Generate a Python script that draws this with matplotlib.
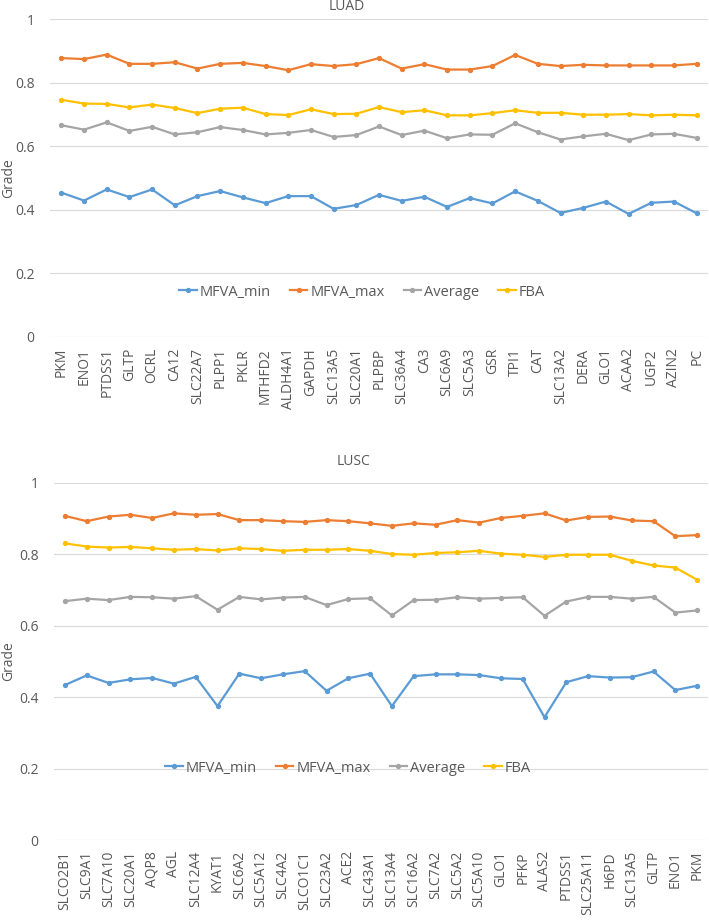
import matplotlib
matplotlib.use('Agg')
import matplotlib.pyplot as plt

plt.rcParams['font.family'] = ['Open Sans', 'DejaVu Sans']

# LUAD data
luad_genes = ['PKM', 'ENO1', 'PTDSS1', 'GLTP', 'OCRL', 'CA12', 'SLC22A7', 'PLPP1', 'PKLR',
              'MTHFD2', 'ALDH4A1', 'GAPDH', 'SLC13A5', 'SLC20A1', 'PLPBP', 'SLC36A4', 'CA3',
              'SLC6A9', 'SLC5A3', 'GSR', 'TPI1', 'CAT', 'SLC13A2', 'DERA', 'GLO1', 'ACAA2',
              'UGP2', 'AZIN2', 'PC']
luad_min = [0.454, 0.429, 0.464, 0.440, 0.464, 0.414, 0.443, 0.459, 0.439, 0.421, 0.443,
            0.443, 0.403, 0.415, 0.447, 0.428, 0.441, 0.409, 0.437, 0.420, 0.458, 0.428,
            0.390, 0.406, 0.426, 0.387, 0.422, 0.426, 0.389]
luad_max = [0.877, 0.874, 0.888, 0.859, 0.859, 0.864, 0.844, 0.859, 0.862, 0.852, 0.839,
            0.858, 0.852, 0.858, 0.877, 0.844, 0.858, 0.841, 0.841, 0.852, 0.887, 0.859,
            0.852, 0.856, 0.854, 0.854, 0.854, 0.854, 0.859]
luad_avg = [0.666, 0.652, 0.675, 0.648, 0.661, 0.637, 0.644, 0.660, 0.651, 0.637, 0.642,
            0.651, 0.629, 0.635, 0.662, 0.635, 0.649, 0.625, 0.637, 0.636, 0.672, 0.644,
            0.621, 0.631, 0.639, 0.619, 0.637, 0.639, 0.626]
luad_fba = [0.746, 0.734, 0.733, 0.722, 0.731, 0.720, 0.704, 0.718, 0.721, 0.701, 0.698,
            0.716, 0.701, 0.702, 0.723, 0.707, 0.713, 0.697, 0.697, 0.704, 0.713, 0.705,
            0.705, 0.699, 0.699, 0.701, 0.697, 0.699, 0.697]

# LUSC data
lusc_genes = ['SLCO2B1', 'SLC9A1', 'SLC7A10', 'SLC20A1', 'AQP8', 'AGL', 'SLC12A4', 'KYAT1',
              'SLC6A2', 'SLC5A12', 'SLC4A2', 'SLCO1C1', 'SLC23A2', 'ACE2', 'SLC43A1',
              'SLC13A4', 'SLC16A2', 'SLC7A2', 'SLC5A2', 'SLC5A10', 'GLO1', 'PFKP', 'ALAS2',
              'PTDSS1', 'SLC25A11', 'H6PD', 'SLC13A5', 'GLTP', 'ENO1', 'PKM']
lusc_min = [0.434, 0.461, 0.440, 0.450, 0.454, 0.438, 0.457, 0.375, 0.466, 0.453, 0.464,
            0.473, 0.418, 0.453, 0.466, 0.375, 0.459, 0.464, 0.464, 0.462, 0.453, 0.451,
            0.344, 0.442, 0.459, 0.455, 0.456, 0.472, 0.420, 0.432]
lusc_max = [0.908, 0.893, 0.906, 0.911, 0.902, 0.915, 0.911, 0.913, 0.896, 0.896, 0.893,
            0.891, 0.896, 0.893, 0.887, 0.880, 0.887, 0.883, 0.896, 0.889, 0.902, 0.908,
            0.915, 0.895, 0.905, 0.906, 0.895, 0.893, 0.851, 0.854]
lusc_avg = [0.669, 0.676, 0.672, 0.681, 0.680, 0.676, 0.683, 0.645, 0.681, 0.674, 0.679,
            0.681, 0.658, 0.675, 0.677, 0.629, 0.672, 0.673, 0.680, 0.676, 0.678, 0.680,
            0.628, 0.668, 0.681, 0.681, 0.676, 0.681, 0.637, 0.643]
lusc_fba = [0.831, 0.822, 0.819, 0.821, 0.817, 0.813, 0.815, 0.811, 0.817, 0.815, 0.810,
            0.813, 0.813, 0.815, 0.810, 0.801, 0.799, 0.804, 0.806, 0.810, 0.802, 0.799,
            0.793, 0.799, 0.799, 0.799, 0.782, 0.769, 0.763, 0.729]

labels = ['MFVA_min', 'MFVA_max', 'Average', 'FBA']
colors = ['#5B9BD5', '#ED7D31', '#A5A5A5', '#FFC000']
text_color = '#595959'

fig = plt.figure(figsize=(7.09, 9.24), dpi=100)
ax1 = fig.add_axes([50 / 709, 1 - 337 / 924, 658 / 709, 318 / 924])
ax2 = fig.add_axes([54 / 709, 1 - 840 / 924, 654 / 709, 357 / 924])


def draw(ax, genes, series, legend_xy, left_px):
    x = range(len(genes))
    for vals, lab, c in zip(series, labels, colors):
        ax.plot(x, vals, color=c, lw=1.6, marker='o', markersize=2.8, label=lab)
    ax.set_xlim(-0.5, len(genes) - 0.5)
    ax.set_ylim(0, 1)
    ax.set_yticks([0, 0.2, 0.4, 0.6, 0.8, 1])
    ax.set_yticklabels(['0', '0.2', '0.4', '0.6', '0.8', '1'])
    ax.set_xticks(list(x))
    ax.set_xticklabels(genes, rotation=90, va='top', ha='center')
    ax.tick_params(axis='both', length=0, labelsize=10, colors=text_color)
    ax.tick_params(axis='y', pad=11)
    ax.tick_params(axis='x', pad=8)
    for s in ax.spines.values():
        s.set_visible(False)
    ax.grid(axis='y', color='#D9D9D9', lw=0.8)
    ax.set_axisbelow(True)
    ax.set_ylabel('Grade', fontsize=10, color=text_color, va='center')
    # label centre about 9 px from the figure's left edge
    ax.yaxis.set_label_coords((9 - left_px) / (ax.get_position().width * 709), 0.5)
    fig.legend(*ax.get_legend_handles_labels(), loc='center', bbox_to_anchor=legend_xy,
               ncol=4, frameon=False, fontsize=10.5, handlelength=1.2, handletextpad=0.2,
               columnspacing=1.3, labelcolor=text_color)


draw(ax1, luad_genes, [luad_min, luad_max, luad_avg, luad_fba], (362 / 709, 1 - 292 / 924), 50)
draw(ax2, lusc_genes, [lusc_min, lusc_max, lusc_avg, lusc_fba], (348 / 709, 1 - 768 / 924), 54)

fig.text(347 / 709, 1 - 6 / 924, 'LUAD', ha='center', va='center', fontsize=10, color=text_color)
fig.text(353 / 709, 1 - 461 / 924, 'LUSC', ha='center', va='center', fontsize=10, color=text_color)

fig.savefig('out.png', dpi=100)
